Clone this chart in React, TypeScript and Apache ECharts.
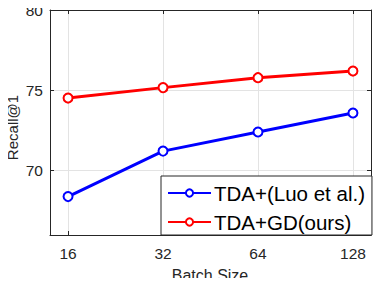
import React, { useEffect, useRef } from "react";
import * as echarts from "echarts";

const batchSizes = [16, 32, 64, 128];
const luoValues = [68.39, 71.22, 72.41, 73.59];
const oursValues = [74.52, 75.17, 75.79, 76.2];
const yTicks = [70, 75, 80];
const seriesNames = ["TDA+(Luo et al.)", "TDA+GD(ours)"];
const xTitle = "Batch Size";
const yTitle = "Recall@1";

const FONT = "'Liberation Sans', Arial, Helvetica, sans-serif";
const AX = "#262626";

export default function App() {
  const ref = useRef<HTMLDivElement>(null);
  useEffect(() => {
    if (!ref.current) return;
    const chart = echarts.init(ref.current, undefined, { renderer: "svg" });
    const xs = batchSizes.map((b) => Math.log2(b));
    const xTickVals = xs;
    const xMin = 3.81;
    const xMax = 7.19;
    const lineSeries = (name: string, vals: number[], color: string) => ({
      name,
      type: "line",
      data: xs.map((x, i) => [x, vals[i]]),
      symbol: "emptyCircle",
      symbolSize: 9,
      lineStyle: { color, width: 3 },
      itemStyle: { color, borderColor: color, borderWidth: 2 },
      z: 5,
    });
    const commonX = {
      type: "value",
      min: xMin,
      max: xMax,
    };
    chart.setOption({
      animation: false,
      backgroundColor: "#ffffff",
      textStyle: { fontFamily: FONT },
      grid: { left: 50, top: 10, width: 321, height: 225, show: false, containLabel: false, outerBoundsMode: "none" },
      graphic: [
        {
          type: "text",
          x: 210,
          y: 275,
          style: {
            text: xTitle,
            fontSize: 16,
            fontFamily: FONT,
            fill: AX,
            align: "center",
            verticalAlign: "middle",
          },
        },
      ],
      xAxis: [
        {
          ...commonX,
          position: "bottom",
          axisLine: { show: true, lineStyle: { color: AX, width: 1 } },
          axisTick: { show: true, inside: true, length: 4, customValues: xTickVals, lineStyle: { color: AX } },
          axisLabel: {
            customValues: xTickVals,
            margin: 10,
            fontSize: 15.5,
            color: AX,
            fontFamily: FONT,
            formatter: (v: number) => String(Math.round(Math.pow(2, v))),
          },
          splitLine: { show: true, lineStyle: { color: "#e3e3e3", width: 1 } },
        },
        {
          ...commonX,
          position: "top",
          axisLine: { show: true, lineStyle: { color: AX, width: 1 } },
          axisTick: { show: true, inside: true, length: 4, customValues: xTickVals, lineStyle: { color: AX } },
          axisLabel: { show: false },
          splitLine: { show: false },
        },
      ],
      yAxis: [
        {
          type: "value",
          min: 66,
          max: 80,
          position: "left",
          name: yTitle,
          nameLocation: "middle",
          nameGap: 38,
          nameMoveOverlap: false,
          nameTextStyle: { fontSize: 15, color: AX, fontFamily: FONT, verticalAlign: "middle", padding: [0, 10, 0, 0] },
          axisLine: { show: true, lineStyle: { color: AX, width: 1 } },
          axisTick: { show: true, inside: true, length: 4, customValues: yTicks, lineStyle: { color: AX } },
          axisLabel: { customValues: yTicks, margin: 7, fontSize: 15.5, color: AX, fontFamily: FONT },
          splitLine: { show: true, lineStyle: { color: "#e3e3e3", width: 1 } },
        },
        {
          type: "value",
          min: 66,
          max: 80,
          position: "right",
          axisLine: { show: true, lineStyle: { color: AX, width: 1 } },
          axisTick: { show: true, inside: true, length: 4, customValues: yTicks, lineStyle: { color: AX } },
          axisLabel: { show: false },
          splitLine: { show: false },
        },
      ],
      legend: {
        data: seriesNames,
        orient: "vertical",
        left: 161,
        top: 176,
        padding: [5, 7, 1, 6],
        itemWidth: 43,
        itemHeight: 9,
        itemGap: 5,
        backgroundColor: "#ffffff",
        borderColor: AX,
        borderWidth: 1,
        borderRadius: 0,
        textStyle: { fontSize: 20.5, color: "#000000", fontFamily: FONT, lineHeight: 24, padding: [0, 0, 0, -2] },
        z: 10,
      },
      series: [
        lineSeries(seriesNames[0], luoValues, "#0000ff"),
        lineSeries(seriesNames[1], oursValues, "#ff0000"),
      ],
    });
    return () => chart.dispose();
  }, []);
  return <div ref={ref} style={{ width: 382, height: 286, margin: -8 }} />;
}
